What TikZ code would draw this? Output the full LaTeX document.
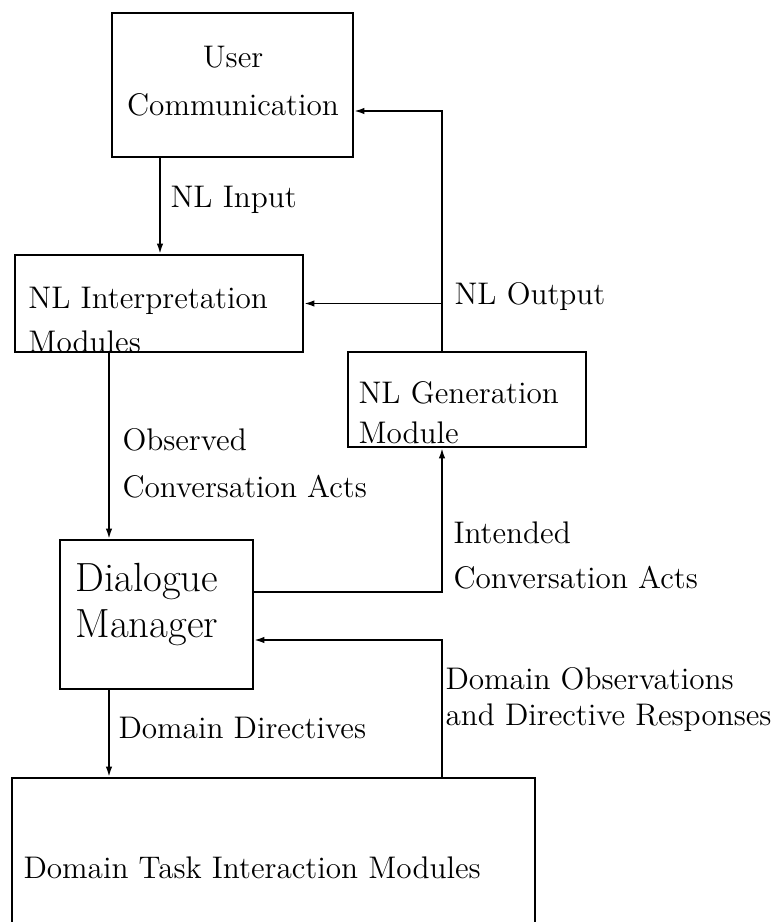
\documentclass[tikz,border=0pt]{standalone}
\usetikzlibrary{arrows.meta}
\begin{document}
\begin{tikzpicture}[x=0.4pt, y=-0.4pt,
    box/.style={draw, rectangle, line width=1.1pt, inner sep=0pt},
    lbl/.style={inner sep=0pt, anchor=west, align=left,
                font=\fontsize{12.5}{19}\selectfont},
    conn/.style={line width=0.6pt, -{Latex[length=4pt,width=2.6pt]}}]
  \useasboundingbox (0,0) rectangle (779,922);
  \clip (0,0) rectangle (779,922);
  % boxes
  \node[box, minimum width=96.4pt, minimum height=57.6pt] (ucomm) at (232.5,85) {};
  \node[box, minimum width=115.2pt, minimum height=38.8pt] (interp) at (159,303.5) {};
  \node[box, minimum width=95.2pt, minimum height=38pt] (gen) at (467,399.5) {};
  \node[box, minimum width=77.2pt, minimum height=59.6pt] (dm) at (156.5,614.5) {};
  \node[box, minimum width=209.2pt, minimum height=68.8pt] (task) at (273.5,864) {};
  % box texts
  \node[lbl, anchor=center, align=center] (ucommtxt) at (233,81) {User\\Communication};
  \node[lbl, font=\fontsize{12.5}{17.6}\selectfont] (interptxt) at (28,320) {NL Interpretation\\Modules};
  \node[lbl, font=\fontsize{12.5}{16}\selectfont] (gentxt) at (358,413) {NL Generation\\Module};
  \node[lbl, font=\fontsize{16.3}{18.4}\selectfont] (dmtxt) at (75,605) {Dialogue\\Manager};
  \node[lbl] (tasktxt) at (23,868) {Domain Task Interaction Modules};
  % columns and rows of the connectors
  \coordinate (xa) at (160,0);
  \coordinate (xl) at (109,0);
  \coordinate (xr) at (442,0);
  \coordinate (yout) at (0,111);
  \coordinate (yint) at (0,592);
  \coordinate (ydom) at (0,640);
  % connectors
  \draw[conn] (ucomm.south -| xa) -- (interp.north -| xa);
  \draw[conn] (gen.north -| xr) |- (ucomm.east |- yout);
  \draw[conn] (interp.east -| xr) -- (interp.east);
  \draw[conn] (interp.south -| xl) -- (dm.north -| xl);
  \draw[conn] (dm.east |- yint) -| (gen.south -| xr);
  \draw[conn] (dm.south -| xl) -- (task.north -| xl);
  \draw[conn] (task.north -| xr) |- (dm.east |- ydom);
  % connector labels
  \node[lbl] (input) at (170,200) {NL Input};
  \node[lbl] (output) at (454,297) {NL Output};
  \node[lbl] (observed) at (122,463.5) {Observed\\Conversation Acts};
  \node[lbl, font=\fontsize{12.5}{18}\selectfont] (intended) at (453,555.5) {Intended\\Conversation Acts};
  \node[lbl] (directives) at (118,728) {Domain Directives};
  \node[lbl, font=\fontsize{12.5}{14.5}\selectfont] (observations) at (445,699.5) {Domain Observations\\and Directive Responses};
\end{tikzpicture}
\end{document}
